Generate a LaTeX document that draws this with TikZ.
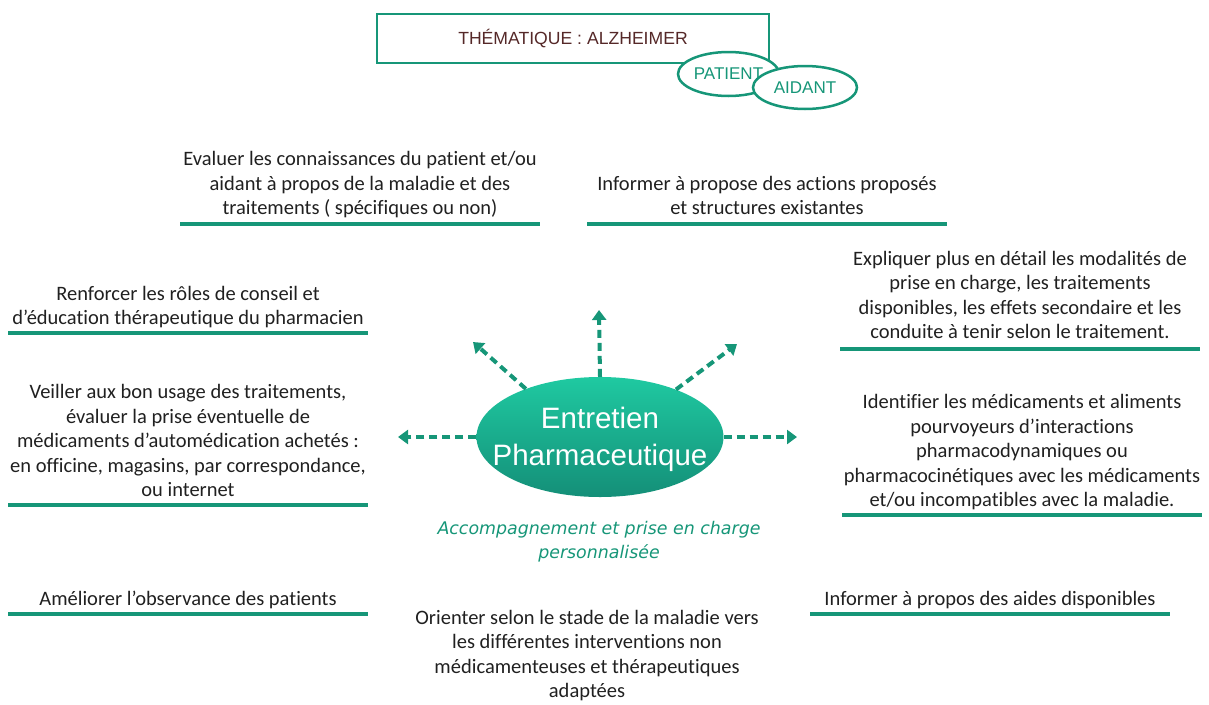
\documentclass[tikz,border=0pt]{standalone}
\usepackage{fontspec}
\setmainfont{Carlito}[Ligatures=NoCommon]
\newfontfamily\arialf{Liberation Sans}
\newfontfamily\verdf{DejaVu Sans}
\usetikzlibrary{shapes.geometric,arrows.meta}
\definecolor{vert}{HTML}{169678}
\definecolor{vertclair}{HTML}{1FC9A1}
\definecolor{vertfonce}{HTML}{148F78}
\definecolor{brun}{HTML}{552828}
\definecolor{texte}{HTML}{202020}
\begin{document}
\begin{tikzpicture}[x=1pt,y=-1pt,
	bloc/.style={align=center,inner sep=0pt,anchor=south,text depth=7pt,text=texte,font=\fontsize{20.5}{24.5}\selectfont},
	trait/.style={vert,line width=4pt},
	fleche/.style={vert,line width=4pt,dash pattern=on 8pt off 5pt,-{Triangle[length=10pt,width=14pt]}},
	bulle/.style={ellipse,draw=vert,line width=2.5pt,fill=white,inner sep=0pt,text=vert,font=\arialf\fontsize{17}{20}\selectfont}]
	\useasboundingbox (0,0) rectangle (1209,704);
	\def\demi{180} % demi-longueur des traits
	% titre
	\node[draw=vert,line width=2.5pt,minimum width=392,minimum height=49,text=brun,font=\arialf\fontsize{17.6}{20}\selectfont] (theme) at (573,38.5) {THÉMATIQUE : ALZHEIMER};
	\node[bulle,minimum width=101,minimum height=44] (patient) at (728.5,74) {PATIENT};
	\node[bulle,minimum width=104,minimum height=43] (aidant) at (805,87.5) {AIDANT};
	% centre
	\node[ellipse,minimum width=247,minimum height=120,inner sep=0pt,top color=vertclair,bottom color=vertfonce] (entretien) at (600,437) {};
	\node[text=white,align=center,inner sep=0pt,font=\arialf\fontsize{29.5}{37}\selectfont] (titrecentre) at (600,439) {Entretien\\Pharmaceutique};
	\coordinate (pg) at (398,437);
	\coordinate (pd) at (797,437);
	\coordinate (ph) at (599,310);
	\coordinate (phg) at (473,342);
	\coordinate (phd) at (737,344);
	\draw[fleche] (entretien.west) -- (pg);
	\draw[fleche] (entretien.east) -- (pd);
	\draw[fleche] (entretien.north) -- (ph);
	\draw[fleche] (entretien.147) -- (phg);
	\draw[fleche] (entretien.32) -- (phd);
	\node[align=center,inner sep=0pt,anchor=south,text depth=6pt,text=vert,font=\verdf\itshape\fontsize{17.4}{24}\selectfont] (accomp) at (599,565) {Accompagnement et prise en charge\\personnalisée};
	% blocs de texte
	\node[bloc] (evaluer) at (360,222) {Evaluer les connaissances du patient et/ou\\aidant à propos de la maladie et des\\traitements ( spécifiques ou non)};
	\node[bloc] (informer) at (767,222) {Informer à propose des actions proposés\\et structures existantes};
	\node[bloc] (renforcer) at (188,332) {Renforcer les rôles de conseil et\\d’éducation thérapeutique du pharmacien};
	\node[bloc] (expliquer) at (1020,346) {Expliquer plus en détail les modalités de\\prise en charge, les traitements\\disponibles, les effets secondaire et les\\conduite à tenir selon le traitement.};
	\node[bloc] (veiller) at (188,504) {Veiller aux bon usage des traitements,\\évaluer la prise éventuelle de\\médicaments d’automédication achetés :\\en officine, magasins, par correspondance,\\ou internet};
	\node[bloc] (identifier) at (1022,514) {Identifier les médicaments et aliments\\pourvoyeurs d’interactions\\pharmacodynamiques ou\\pharmacocinétiques avec les médicaments\\et/ou incompatibles avec la maladie.};
	\node[bloc] (ameliorer) at (188,613) {Améliorer l’observance des patients};
	\node[bloc] (aides) at (990,613) {Informer à propos des aides disponibles};
	\node[bloc] (orienter) at (587,705) {Orienter selon le stade de la maladie vers\\les différentes interventions non\\médicamenteuses et thérapeutiques\\adaptées};
	% traits sous les blocs
	\draw[trait] ([xshift=-\demi,yshift=-2]evaluer.south) -- ([xshift=\demi,yshift=-2]evaluer.south);
	\draw[trait] ([xshift=-\demi,yshift=-2]informer.south) -- ([xshift=\demi,yshift=-2]informer.south);
	\draw[trait] ([xshift=-\demi,yshift=-1]renforcer.south) -- ([xshift=\demi,yshift=-1]renforcer.south);
	\draw[trait] ([xshift=-\demi,yshift=-3]expliquer.south) -- ([xshift=\demi,yshift=-3]expliquer.south);
	\foreach \n in {veiller,identifier,ameliorer,aides}
		\draw[trait] ([xshift=-\demi,yshift=-1]\n.south) -- ([xshift=\demi,yshift=-1]\n.south);
\end{tikzpicture}
\end{document}
